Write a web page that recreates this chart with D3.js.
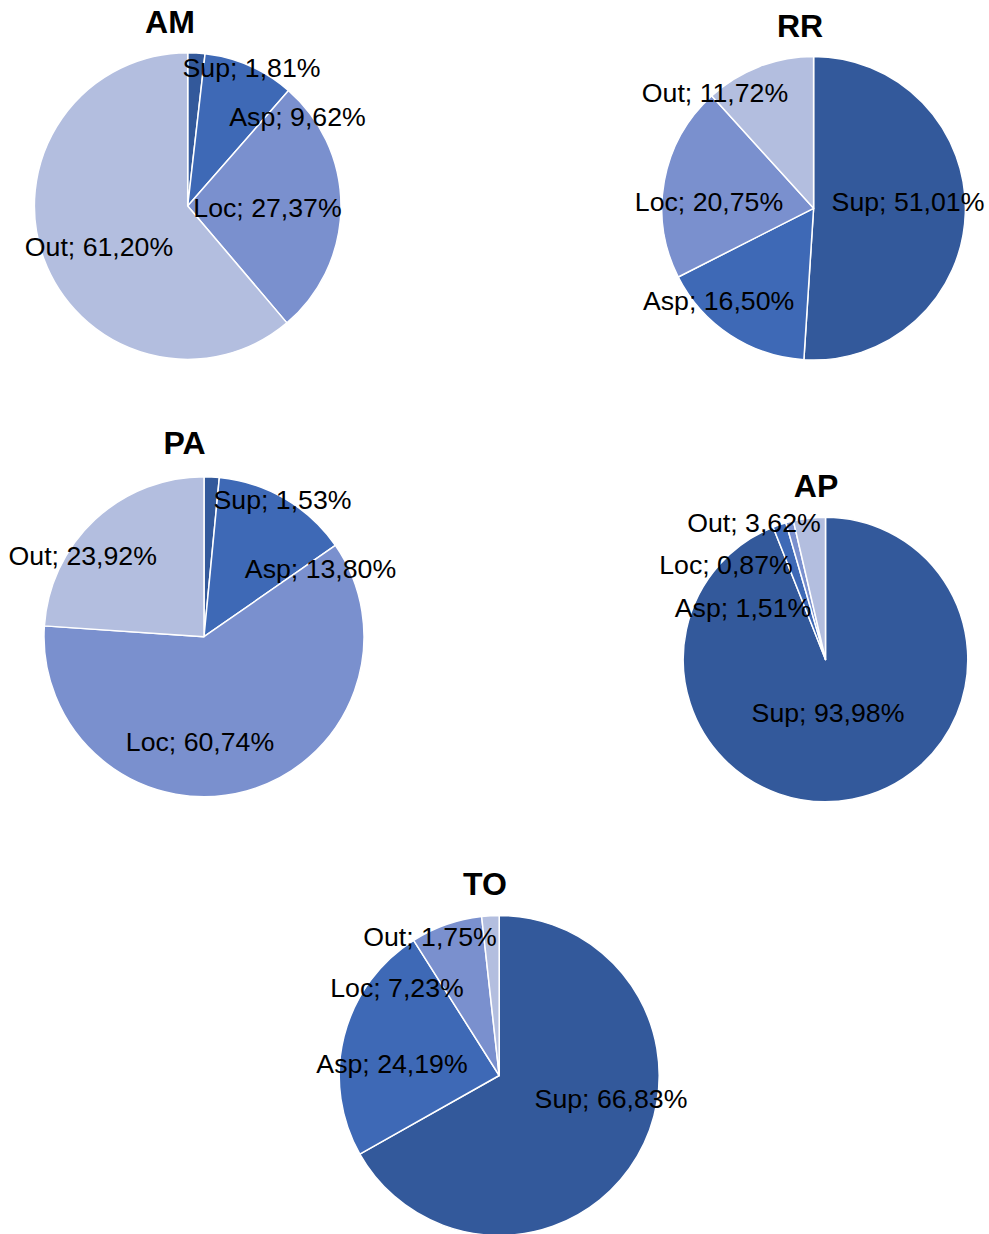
<!DOCTYPE html>
<html>
<head>
<meta charset="utf-8">
<script src="https://cdn.jsdelivr.net/npm/d3@7"></script>
<style>
  html, body { margin: 0; padding: 0; background: #ffffff; }
  svg { display: block; }
</style>
</head>
<body>
<svg id="chart" width="989" height="1234"></svg>
<script>
// Categories, in clockwise order from 12 o'clock
const categories = ["Sup", "Asp", "Loc", "Out"];

// Share (%) of each category per state
const amValues = [1.81, 9.62, 27.37, 61.20];
const rrValues = [51.01, 16.50, 20.75, 11.72];
const paValues = [1.53, 13.80, 60.74, 23.92];
const apValues = [93.98, 1.51, 0.87, 3.62];
const toValues = [66.83, 24.19, 7.23, 1.75];

const states = ["AM", "RR", "PA", "AP", "TO"];
const valuesByState = { AM: amValues, RR: rrValues, PA: paValues, AP: apValues, TO: toValues };

// Slice colours per category
const colors = ["#33599b", "#3e69b6", "#7a90ce", "#b3bedf"];

// Layout: pie centre, radius, title baseline, and label anchors (offsets from centre, text baseline)
const layout = {
  AM: { cx: 187.7, cy: 206,   r: 153.3, title: [170, 33],
        labels: [[63.8, -129], [109.8, -80], [79.8, 11], [-88.7, 50]] },
  RR: { cx: 813.6, cy: 208.3, r: 151.8, title: [800, 36.7],
        labels: [[94.4, 2.4], [-95, 101.7], [-104.6, 2.4], [-98.6, -106.6]] },
  PA: { cx: 204,   cy: 636.7, r: 160,   title: [184.5, 454],
        labels: [[78.5, -127.4], [116.5, -58.4], [-4, 114], [-121.3, -71.7]] },
  AP: { cx: 825.5, cy: 659.5, r: 142.3, title: [816, 496.7],
        labels: [[2.5, 62.2], [-82.5, -42.8], [-99.5, -85.5], [-71.5, -127.8]] },
  TO: { cx: 499.2, cy: 1075.5, r: 160,  title: [485, 895],
        labels: [[111.8, 32.8], [-107.2, -2.2], [-102.2, -78.2], [-69.2, -129.5]] }
};

const svg = d3.select("#chart");
const fmt = d3.formatLocale({ decimal: ",", thousands: ".", grouping: [3], currency: ["", ""] }).format(".2f");

const pie = d3.pie().sort(null).value(d => d.value);

states.forEach(state => {
  const L = layout[state];
  const data = categories.map((c, i) => ({ category: c, value: valuesByState[state][i], color: colors[i] }));
  const arcs = pie(data);
  const arc = d3.arc().innerRadius(0).outerRadius(L.r);

  const g = svg.append("g").attr("transform", `translate(${L.cx},${L.cy})`);

  g.selectAll("path.slice")
    .data(arcs)
    .join("path")
    .attr("class", "slice")
    .attr("d", arc)
    .attr("fill", d => d.data.color)
    .attr("stroke", "#ffffff")
    .attr("stroke-width", 1.5)
    .attr("stroke-linejoin", "round");

  g.selectAll("text.label")
    .data(arcs)
    .join("text")
    .attr("class", "label")
    .attr("x", (d, i) => L.labels[i][0])
    .attr("y", (d, i) => L.labels[i][1])
    .attr("text-anchor", "middle")
    .attr("font-family", "'Liberation Sans', Arial, sans-serif")
    .attr("font-size", 26.7)
    .attr("fill", "#000000")
    .text(d => `${d.data.category}; ${fmt(d.data.value)}%`);

  svg.append("text")
    .attr("x", L.title[0])
    .attr("y", L.title[1])
    .attr("text-anchor", "middle")
    .attr("font-family", "'Liberation Sans', Arial, sans-serif")
    .attr("font-size", 32)
    .attr("font-weight", "bold")
    .attr("fill", "#000000")
    .text(state);
});
</script>
</body>
</html>
